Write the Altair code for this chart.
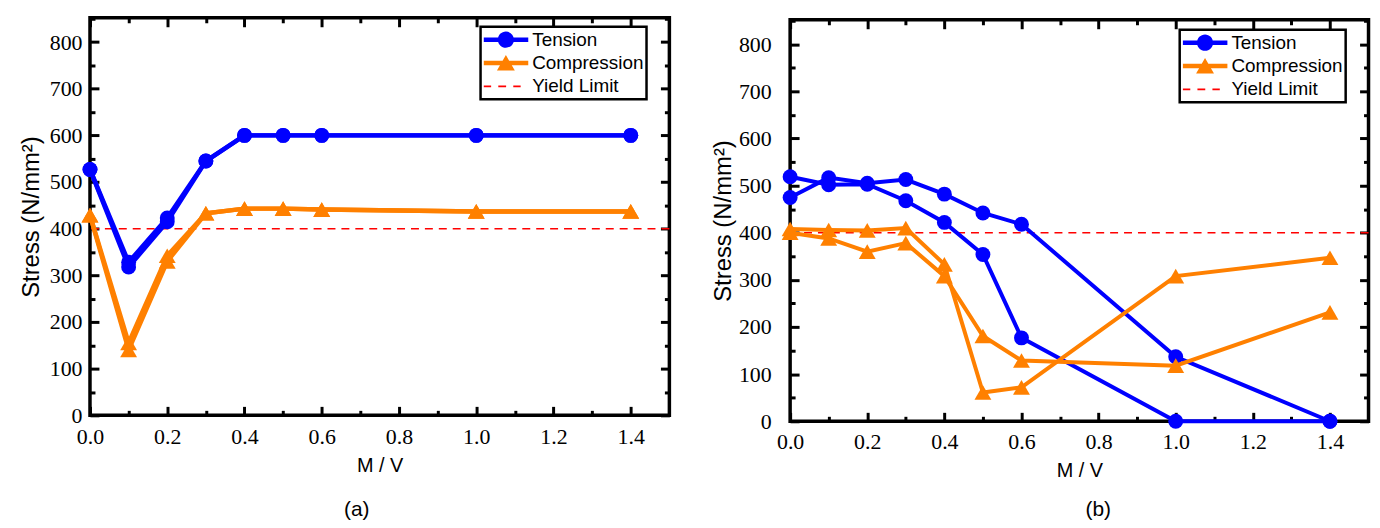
import altair as alt
import pandas as pd

# ---------------- data ----------------
mv = [0.0, 0.1, 0.2, 0.3, 0.4, 0.5, 0.6, 1.0, 1.4]

a_tension_1 = [527, 318, 415, 545, 600, 600, 600, 600, 600]
a_tension_2 = [527, 328, 423, 545, 600, 600, 600, 600, 600]
a_compression_1 = [429, 155, 342, 433, 443, 443, 441, 437, 437]
a_compression_2 = [429, 140, 330, 433, 443, 443, 441, 437, 437]

b_tension_1 = [519, 502, 503, 468, 422, 354, 177, 0, 0]
b_tension_2 = [475, 517, 505, 513, 482, 442, 418, 137, 0]
b_compression_1 = [408, 406, 405, 410, 333, 61, 72, 308, 347]
b_compression_2 = [400, 388, 360, 378, 308, 181, 129, 118, 231]

yield_limit = [400]
legend_labels = ["Tension", "Compression", "Yield Limit"]

x_major_ticks = [0.0, 0.2, 0.4, 0.6, 0.8, 1.0, 1.2, 1.4]
x_minor_ticks = [0.1, 0.3, 0.5, 0.7, 0.9, 1.1, 1.3]
y_major_ticks = [0, 100, 200, 300, 400, 500, 600, 700, 800]
y_minor_ticks = [50, 150, 250, 350, 450, 550, 650, 750, 850]

X_DOMAIN = [0, 1.5]
Y_DOMAIN = [0, 852]

BLUE = "#0000FF"
ORANGE = "#FF8000"
RED = "#FF0000"

SANS = "Liberation Sans"
SERIF = "Liberation Serif"

# legend symbols (unit coords, scaled by sqrt(symbolSize)/2)
PATH_TENSION = ("M-1,-0.1L1,-0.1L1,0.1L-1,0.1Z "
                "M0.36,0A0.36,0.36 0 1,1 -0.36,0A0.36,0.36 0 1,1 0.36,0Z")
PATH_COMPRESSION = ("M-1,-0.1L1,-0.1L1,0.1L-1,0.1Z "
                    "M0,-0.36L0.4,0.34L-0.4,0.34Z")
PATH_YIELD = ("M-1,-0.035L-0.66,-0.035L-0.66,0.035L-1,0.035Z "
              "M-0.34,-0.035L0.01,-0.035L0.01,0.035L-0.34,0.035Z "
              "M0.33,-0.035L0.66,-0.035L0.66,0.035L0.33,0.035Z")


def build_panel(series, title, dx, W, H, lw, lab_pad_x, lab_pad_y,
                title_pad_y, legend_x, legend_y, title_offset):
    rows = []
    for kind, run, vals in series:
        for xv, yv in zip(mv, vals):
            rows.append({"kind": kind, "run": run, "x": xv, "y": yv})
    df = pd.DataFrame(rows)

    xs = alt.Scale(domain=X_DOMAIN, nice=False, zero=False)
    ys = alt.Scale(domain=Y_DOMAIN, nice=False, zero=False)

    x_enc = alt.X("x:Q", scale=xs, title="M / V",
                  axis=alt.Axis(orient="bottom", values=x_major_ticks, format=".1f",
                                ticks=False, tickSize=0, domain=False, grid=False,
                                labelFlush=False,
                                labelFont=SERIF, labelFontSize=22, labelColor="black",
                                labelPadding=lab_pad_x, titleFont=SANS, titleFontSize=20,
                                titleFontWeight="normal", titleColor="black",
                                titlePadding=8))
    y_enc = alt.Y("y:Q", scale=ys, title="Stress (N/mm²)",
                  axis=alt.Axis(orient="left", values=y_major_ticks, format="d",
                                ticks=False, tickSize=0, domain=False, grid=False,
                                labelFlush=False,
                                labelFont=SERIF, labelFontSize=22, labelColor="black",
                                labelPadding=lab_pad_y, titleFont=SANS, titleFontSize=24,
                                titleFontWeight="normal", titleColor="black",
                                titlePadding=title_pad_y))

    base = alt.Chart(df)
    rule = alt.Chart(pd.DataFrame({"y": yield_limit})).mark_rule(
        color=RED, strokeWidth=1.5, strokeDash=[8, 6]).encode(y=y_enc)

    layers = [rule]
    for kind, color, shape, size in [("Tension", BLUE, "circle", 225),
                                     ("Compression", ORANGE, "triangle-up", 289)]:
        sub = base.transform_filter(alt.datum.kind == kind)
        layers.append(sub.mark_line(color=color, strokeWidth=lw).encode(
            x=x_enc, y=y_enc, detail="run:N"))
        layers.append(sub.mark_point(filled=True, color=color, shape=shape, size=size,
                                     opacity=1, strokeWidth=0).encode(
            x=x_enc, y=y_enc, detail="run:N"))
    main = alt.layer(*layers)

    def tick_layer(x_orient, y_orient, xv, yv, size):
        common = dict(labels=False, domain=False, grid=False, ticks=True,
                      tickSize=size, tickWidth=3, tickColor="black")
        return base.mark_point(opacity=0).encode(
            x=alt.X("x:Q", scale=xs, title=None,
                    axis=alt.Axis(orient=x_orient, offset=-H, values=xv, **common)),
            y=alt.Y("y:Q", scale=ys, title=None,
                    axis=alt.Axis(orient=y_orient, offset=-W, values=yv, **common)),
        )

    t1 = tick_layer("top", "right", x_major_ticks, y_major_ticks, 9)
    t2 = tick_layer("top", "right", x_minor_ticks, y_minor_ticks, 5)
    t3 = tick_layer("bottom", "left", x_major_ticks, y_major_ticks, 9)
    t4 = tick_layer("bottom", "left", x_minor_ticks, y_minor_ticks, 5)

    leg_props = dict(orient="none", legendX=legend_x, legendY=legend_y, title=None,
                     strokeColor="black", fillColor="white",
                     padding=3, labelFont=SANS, labelFontSize=19, labelColor="black",
                     labelOffset=4, symbolSize=2025, symbolStrokeWidth=0,
                     clipHeight=20, rowPadding=3.5, symbolOpacity=1,
                     cornerRadius=0, labelLimit=300)
    leg = alt.Chart(pd.DataFrame({"label": legend_labels})).mark_point(
        filled=True, opacity=0).encode(
        color=alt.Color("label:N",
                        scale=alt.Scale(domain=legend_labels, range=[BLUE, ORANGE, RED]),
                        legend=alt.Legend(**leg_props)),
        shape=alt.Shape("label:N",
                        scale=alt.Scale(domain=legend_labels,
                                        range=[PATH_TENSION, PATH_COMPRESSION, PATH_YIELD]),
                        legend=alt.Legend(**leg_props)),
    )

    return alt.layer(main, t1, t2, t3, t4, leg).resolve_scale(
        x="independent", y="independent"
    ).properties(
        width=W, height=H,
        title=alt.TitleParams(text=title, orient="bottom", anchor="middle", frame="group",
                              font=SANS, fontSize=21, fontWeight="normal", color="black",
                              offset=title_offset, dx=dx),
    )


panel_a = build_panel(
    [("Tension", "t1", a_tension_1), ("Tension", "t2", a_tension_2),
     ("Compression", "c1", a_compression_1), ("Compression", "c2", a_compression_2)],
    "(a)", -23, 583, 400, 4.5, 11.6, 8, 6, 393, 9, 24)

panel_b = build_panel(
    [("Tension", "t1", b_tension_1), ("Tension", "t2", b_tension_2),
     ("Compression", "c1", b_compression_1), ("Compression", "c2", b_compression_2)],
    "(b)", 19, 582, 404, 4, 10.6, 19, 3, 392, 10, 19)

# thin invisible strip that lowers panel (b) by a few pixels, as in the original
spacer = alt.Chart(pd.DataFrame({"v": [0]})).mark_point(opacity=0, size=1).encode(
    x=alt.value(1), y=alt.value(0.5)
).properties(width=582, height=1,
             view=alt.ViewBackground(stroke="transparent", strokeWidth=0))

panel_b_wrapped = alt.vconcat(spacer, panel_b, spacing=-3).resolve_scale(
    color="independent", shape="independent"
)

chart = alt.hconcat(panel_a, panel_b_wrapped, spacing=36.5).resolve_scale(
    color="independent", shape="independent"
).configure_view(
    stroke="black", strokeWidth=3.5
).configure_legend(
    strokeWidth=2.5
).properties(
    padding={"left": 9.5, "top": 4.25, "right": 0, "bottom": 0},
    background="white",
)

chart.save("out.html", embed_options={"renderer": "svg", "actions": False})
